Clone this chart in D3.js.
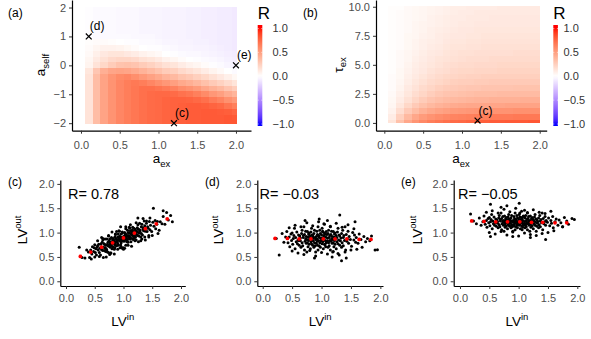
<!DOCTYPE html>
<html>
<head>
<meta charset="utf-8">
<script src="https://cdn.jsdelivr.net/npm/d3@7"></script>
<style>
body { margin: 0; background: #fff; }
svg { display: block; font-family: "Liberation Sans", Arial, Helvetica, sans-serif; }
.axis path, .axis line { stroke: #000; stroke-width: 1.2; }
.axis line { stroke: #333; stroke-width: 1; }
.axis text { fill: #4d4d4d; font-size: 11px; }
</style>
</head>
<body>
<script>
// ---- heatmap grids ----
var aexGrid = [0, 0.1, 0.2, 0.3, 0.4, 0.5, 0.6, 0.7, 0.8, 0.9, 1.0, 1.1, 1.2, 1.3, 1.4, 1.5, 1.6, 1.7, 1.8, 1.9, 2.0];
var aselfGrid = [-2, -1.8, -1.6, -1.4, -1.2, -1, -0.8, -0.6, -0.4, -0.2, 0, 0.2, 0.4, 0.6, 0.8, 1, 1.2, 1.4, 1.6, 1.8, 2];
var tauGrid = [0, 0.5, 1, 1.5, 2, 2.5, 3, 3.5, 4, 4.5, 5, 5.5, 6, 6.5, 7, 7.5, 8, 8.5, 9, 9.5, 10];

// panel (a): R, one column per a_ex value, a_self from -2 up to 2
var rAselfByCol = [
  [0, 0, 0, 0, 0, 0, 0, 0, 0, 0, 0, 0, 0, 0, 0, 0, 0, 0, 0, 0, 0],
  [.15, .15, .15, .15, .15, .15, .15, .15, .15, .13, .06, .05, .03, .02, .01, -.01, -.01, -.01, -.01, -.01, -.01],
  [.35, .35, .35, .35, .35, .35, .35, .35, .35, .30, .15, .11, .08, .05, .02, -.02, -.02, -.02, -.02, -.02, -.02],
  [.48, .48, .48, .48, .48, .48, .48, .48, .48, .42, .21, .16, .12, .07, .02, -.02, -.02, -.02, -.02, -.02, -.02],
  [.56, .56, .56, .56, .56, .56, .56, .56, .55, .47, .27, .20, .14, .07, .01, -.02, -.02, -.02, -.02, -.02, -.02],
  [.62, .62, .62, .62, .62, .62, .62, .62, .60, .48, .32, .22, .14, .06, .00, -.02, -.03, -.03, -.03, -.03, -.03],
  [.66, .66, .66, .66, .66, .66, .66, .66, .62, .47, .33, .22, .12, .04, -.01, -.02, -.03, -.03, -.03, -.03, -.03],
  [.69, .69, .69, .69, .69, .69, .69, .68, .58, .44, .31, .20, .10, .02, -.01, -.03, -.03, -.03, -.03, -.03, -.03],
  [.72, .72, .72, .72, .72, .72, .72, .66, .53, .40, .27, .16, .07, .00, -.02, -.03, -.04, -.04, -.04, -.04, -.04],
  [.74, .74, .74, .74, .74, .74, .72, .62, .49, .36, .24, .14, .05, -.01, -.02, -.03, -.04, -.04, -.04, -.04, -.04],
  [.75, .75, .75, .75, .75, .75, .70, .58, .45, .32, .20, .11, .03, -.01, -.03, -.04, -.04, -.04, -.04, -.04, -.04],
  [.77, .77, .77, .77, .77, .75, .67, .54, .40, .27, .16, .07, .00, -.02, -.04, -.05, -.05, -.05, -.05, -.05, -.05],
  [.78, .78, .78, .78, .78, .74, .64, .50, .37, .25, .14, .05, -.01, -.03, -.04, -.05, -.05, -.05, -.05, -.05, -.05],
  [.79, .79, .79, .79, .78, .71, .59, .45, .32, .20, .10, .02, -.02, -.04, -.05, -.05, -.05, -.05, -.05, -.05, -.05],
  [.80, .80, .80, .80, .77, .69, .56, .42, .29, .17, .07, .00, -.03, -.04, -.05, -.06, -.06, -.06, -.06, -.06, -.06],
  [.80, .80, .80, .80, .75, .65, .52, .38, .25, .14, .05, -.01, -.03, -.05, -.06, -.06, -.06, -.06, -.06, -.06, -.06],
  [.81, .81, .81, .79, .72, .60, .46, .33, .21, .10, .02, -.02, -.04, -.05, -.06, -.07, -.07, -.07, -.07, -.07, -.07],
  [.81, .81, .81, .77, .67, .54, .41, .28, .16, .06, -.01, -.03, -.05, -.06, -.07, -.07, -.07, -.07, -.07, -.07, -.07],
  [.81, .81, .80, .75, .63, .50, .37, .24, .12, .03, -.02, -.04, -.06, -.07, -.08, -.08, -.08, -.08, -.08, -.08, -.08],
  [.82, .82, .79, .70, .57, .44, .31, .19, .08, .00, -.04, -.06, -.07, -.08, -.08, -.08, -.08, -.08, -.08, -.08, -.08],
  [.82, .81, .76, .65, .52, .39, .26, .14, .04, -.02, -.05, -.07, -.08, -.09, -.09, -.09, -.09, -.09, -.09, -.09, -.09]
];

// panel (b): R, one row per tau_ex value (0 up to 10), a_ex from 0 to 2
var rTauByRow = [
  [0, .14, .33, .46, .55, .61, .66, .69, .72, .74, .75, .77, .78, .79, .80, .80, .81, .81, .81, .82, .82],
  [0, .10, .25, .37, .46, .52, .56, .59, .61, .63, .64, .65, .66, .66, .67, .67, .67, .68, .68, .68, .68],
  [0, .07, .18, .28, .35, .41, .45, .48, .50, .52, .53, .54, .55, .55, .56, .56, .56, .57, .57, .57, .57],
  [0, .05, .13, .21, .28, .33, .37, .40, .42, .44, .45, .46, .46, .47, .47, .47, .48, .48, .48, .48, .48],
  [0, .04, .10, .16, .22, .27, .31, .34, .36, .37, .38, .39, .40, .40, .41, .41, .41, .41, .42, .42, .42],
  [0, .03, .08, .13, .18, .22, .26, .29, .31, .32, .33, .34, .35, .35, .35, .36, .36, .36, .36, .36, .36],
  [0, .02, .06, .11, .15, .19, .22, .25, .27, .28, .29, .30, .30, .31, .31, .31, .31, .32, .32, .32, .32],
  [0, .02, .05, .09, .13, .16, .19, .21, .23, .25, .26, .26, .27, .27, .28, .28, .28, .28, .28, .28, .28],
  [0, .02, .04, .08, .11, .14, .17, .19, .21, .22, .23, .24, .24, .25, .25, .25, .25, .25, .25, .25, .25],
  [0, .01, .04, .07, .10, .12, .15, .17, .18, .20, .21, .21, .22, .22, .22, .23, .23, .23, .23, .23, .23],
  [0, .01, .03, .06, .09, .11, .13, .15, .17, .18, .19, .19, .20, .20, .20, .21, .21, .21, .21, .21, .21],
  [0, .01, .03, .05, .08, .10, .12, .14, .15, .16, .17, .18, .18, .18, .19, .19, .19, .19, .19, .19, .19],
  [0, .01, .03, .05, .07, .09, .11, .12, .14, .15, .16, .16, .17, .17, .17, .17, .17, .18, .18, .18, .18],
  [0, .01, .02, .04, .06, .08, .10, .11, .13, .14, .14, .15, .15, .16, .16, .16, .16, .16, .16, .16, .16],
  [0, .01, .02, .04, .06, .08, .09, .10, .12, .13, .13, .14, .14, .15, .15, .15, .15, .15, .15, .15, .15],
  [0, .01, .02, .04, .05, .07, .08, .10, .11, .12, .12, .13, .13, .14, .14, .14, .14, .14, .14, .14, .14],
  [0, .01, .02, .03, .05, .06, .08, .09, .10, .11, .12, .12, .13, .13, .13, .13, .13, .13, .13, .13, .13],
  [0, .01, .02, .03, .05, .06, .07, .08, .09, .10, .11, .11, .12, .12, .12, .12, .12, .12, .12, .12, .12],
  [0, .01, .02, .03, .04, .05, .07, .08, .09, .10, .10, .11, .11, .11, .12, .12, .12, .12, .12, .12, .12],
  [0, .01, .02, .03, .04, .05, .06, .07, .08, .09, .10, .10, .11, .11, .11, .11, .11, .11, .11, .11, .11],
  [0, .01, .01, .03, .04, .05, .06, .07, .08, .09, .09, .10, .10, .10, .10, .11, .11, .11, .11, .11, .11]
];

// marked parameter sets
var markAex = [0.1, 2.0, 1.2];
var markAself = [1, 0, -2];
var markLabelA = ["(d)", "(e)", "(c)"];
var markTauAex = [1.2];
var markTau = [0.2];
var markLabelB = ["(c)"];

// tick labels
var aexTicks = [0, 0.5, 1, 1.5, 2];
var aselfTicks = [-2, -1, 0, 1, 2];
var tauTicks = [0, 2.5, 5, 7.5, 10];
var lvTicks = [0, 0.5, 1, 1.5, 2];
var rTicks = [-1, -0.5, 0, 0.5, 1];

// ---- scatter data: LV in (shared sample order) and LV out per panel ----
var lvIn = [0.23,0.28, 0.33,0.36,0.39, 0.41,0.43,0.45,0.46,0.48,0.49,
  0.50,0.51,0.52,0.53,0.55,0.56,0.57,0.58,0.59,0.54,
  0.60,0.61,0.62,0.63,0.64,0.64,0.65,0.66,0.67,0.67,0.68,0.69,0.69,0.61,
  0.70,0.71,0.71,0.72,0.73,0.73,0.74,0.74,0.75,0.75,0.76,0.76,0.77,0.77,0.78,0.78,0.79,0.79,
  0.80,0.80,0.81,0.81,0.82,0.82,0.83,0.83,0.84,0.84,0.85,0.85,0.86,0.86,0.87,0.87,0.88,0.88,0.89,0.89,0.85,
  0.90,0.90,0.91,0.91,0.92,0.92,0.93,0.93,0.94,0.94,0.95,0.95,0.96,0.96,0.97,0.97,0.98,0.98,0.99,0.99,0.95,0.93,
  1.00,1.00,1.01,1.01,1.02,1.02,1.03,1.03,1.04,1.04,1.05,1.05,1.06,1.06,1.07,1.07,1.08,1.08,1.09,1.09,1.02,1.06,
  1.10,1.10,1.11,1.11,1.12,1.12,1.13,1.13,1.14,1.14,1.15,1.15,1.16,1.16,1.17,1.17,1.18,1.18,1.19,1.19,
  1.20,1.20,1.21,1.21,1.22,1.22,1.23,1.23,1.24,1.25,1.25,1.26,1.26,1.27,1.28,1.28,1.29,
  1.30,1.31,1.31,1.32,1.33,1.34,1.34,1.35,1.36,1.37,1.37,1.38,1.39,
  1.40,1.41,1.42,1.43,1.44,1.45,1.46,1.47,1.49,
  1.51,1.53,1.55,1.56,1.58,1.59, 1.62,1.64,1.67,1.69, 1.72,1.75,1.78, 1.82,1.85];

var lvOutC = [0.70,0.49, 0.48,0.64,0.60, 0.49,0.64,0.56,0.71,0.61,0.69,
  0.75,0.59,0.67,0.54,0.73,0.64,0.76,0.59,0.68,0.70,
  0.54,0.71,0.65,0.80,0.63,0.85,0.70,0.77,0.63,0.76,0.69,0.74,0.61,0.77,
  0.67,0.87,0.64,0.76,0.80,0.73,0.93,0.59,0.83,0.72,0.76,0.87,0.70,0.80,0.76,0.58,0.90,0.73,
  0.81,0.67,0.86,0.77,0.88,0.71,0.80,0.85,0.66,0.82,0.77,0.91,0.74,0.96,0.81,0.88,0.73,0.86,0.80,0.84,0.69,
  0.91,0.77,0.97,0.74,0.86,0.89,0.83,1.03,0.69,0.92,0.82,0.86,0.97,0.79,0.90,0.86,0.68,0.99,0.83,0.91,0.75,0.92,
  0.69,0.87,0.92,0.82,1.00,0.89,0.86,0.97,0.74,1.08,0.89,0.96,0.93,0.81,1.05,0.86,1.00,0.80,0.94,0.90,0.93,0.82,
  0.99,0.92,1.09,0.87,1.04,0.90,0.97,0.81,1.00,0.95,0.88,1.05,0.94,1.03,0.86,1.00,0.92,1.09,1.02,0.89,
  0.96,1.07,0.91,0.99,1.04,0.85,1.02,0.96,1.10,0.94,1.16,1.00,1.07,0.93,1.06,0.99,1.04,
  0.91,1.12,0.98,1.17,0.95,1.07,1.10,1.04,1.24,0.91,1.14,1.03,1.08,
  1.19,1.02,1.12,1.09,0.91,1.23,1.06,1.15,1.02,
  1.21,1.13,1.25,1.08,1.17,1.23, 1.05,1.22,1.18,1.33, 1.17,1.41,1.26, 1.35,1.22];

var lvOutD = [0.88,0.54, 0.98,0.80,0.91, 1.02,0.79,0.91,0.71,0.97,0.84,
  0.99,0.76,0.88,0.94,0.67,0.90,0.81,1.01,0.77,1.09,
  0.85,0.95,0.74,0.93,0.83,0.89,0.70,0.98,0.79,1.05,0.73,0.90,0.94,0.84,
  1.12,0.64,0.96,0.82,0.87,1.03,0.78,0.92,0.86,0.60,1.02,0.79,0.91,0.71,0.97,0.84,0.99,0.76,
  0.88,0.94,0.67,0.90,0.81,1.01,0.77,1.09,0.85,0.95,0.74,0.93,0.83,0.89,0.70,0.98,0.79,1.05,0.73,0.90,0.94,
  0.60,0.86,0.92,0.78,1.03,0.87,0.82,0.96,0.64,1.12,0.84,0.94,0.90,0.73,1.05,0.79,0.98,0.70,0.89,0.83,0.93,0.74,
  0.95,0.85,1.09,0.77,1.01,0.81,0.90,0.67,0.94,0.88,0.76,0.99,0.84,0.97,0.71,0.91,0.79,1.02,0.96,0.82,1.03,0.75,
  0.83,0.89,0.70,0.98,0.79,1.05,0.73,0.90,0.94,0.84,1.12,0.64,0.96,0.82,0.87,1.03,0.78,0.92,0.86,0.60,
  1.02,0.79,0.91,0.71,0.97,0.84,0.99,0.76,0.88,0.94,0.67,0.90,0.81,1.01,0.77,1.09,0.85,
  0.95,0.74,0.93,0.83,0.89,0.70,0.98,0.79,1.05,0.73,0.90,0.94,0.84,
  1.12,0.64,0.96,0.82,0.87,1.03,0.78,0.92,0.86,
  0.72,1.00,0.85,0.95,0.80,0.90, 0.78,0.97,0.86,0.70, 0.92,0.81,0.88, 0.83,0.93];

var lvOutE = [1.24,1.18, 1.30,1.15,1.22, 1.34,1.17,1.25,1.11,1.29,1.20,
  1.31,1.14,1.22,1.27,1.08,1.24,1.18,1.32,1.15,1.37,
  1.21,1.28,1.13,1.26,1.19,1.23,1.10,1.30,1.16,1.35,1.12,1.24,1.27,1.20,
  1.40,1.06,1.29,1.18,1.22,1.33,1.15,1.25,1.21,1.03,1.34,1.17,1.25,1.11,1.29,1.20,1.31,1.14,
  1.22,1.27,1.08,1.24,1.18,1.32,1.15,1.37,1.21,1.28,1.13,1.26,1.19,1.23,1.10,1.30,1.16,1.35,1.12,1.24,1.27,
  1.03,1.21,1.25,1.15,1.33,1.22,1.18,1.29,1.06,1.40,1.20,1.27,1.24,1.12,1.35,1.16,1.30,1.10,1.23,1.19,1.26,1.13,
  1.28,1.21,1.37,1.15,1.32,1.18,1.24,1.08,1.27,1.22,1.14,1.31,1.20,1.29,1.11,1.25,1.17,1.34,1.33,1.15,1.40,1.06,
  1.19,1.23,1.10,1.30,1.16,1.35,1.12,1.24,1.27,1.20,1.40,1.06,1.29,1.18,1.22,1.33,1.15,1.25,1.21,1.03,
  1.34,1.17,1.25,1.11,1.29,1.20,1.31,1.14,1.22,1.27,1.08,1.24,1.18,1.32,1.15,1.37,1.21,
  1.28,1.13,1.26,1.19,1.23,1.10,1.30,1.16,1.35,1.12,1.24,1.27,1.20,
  1.40,1.06,1.29,1.18,1.22,1.33,1.15,1.25,1.21,
  1.30,1.14,1.25,1.19,1.33,1.10, 1.22,1.28,1.15,1.26, 1.20,1.12,1.31, 1.24,1.17];

// points on the fringe of each cloud (not in the shared sample)
var extraInC = [1.52, 1.69, 0.44, 0.50, 0.95, 1.25, 0.70, 1.60,
  0.55,0.62,0.68,0.74,0.80,0.86,0.92,0.98,1.04,1.10,1.16,1.22,1.28,1.34,1.40,1.46,
  0.58,0.65,0.72,0.78,0.84,0.90,0.96,1.02,1.08,1.14,1.20,1.26,1.32,1.38,1.44,1.50,
  0.88,1.00,1.12,0.76,1.30,0.64];
var extraOutC = [1.50, 1.45, 0.46, 0.50, 1.12, 1.30, 0.50, 0.98,
  0.83,0.90,0.87,0.94,1.01,0.97,1.04,1.01,1.12,1.11,1.11,1.20,1.19,1.29,1.24,1.30,
  0.51,0.49,0.60,0.58,0.56,0.66,0.71,0.68,0.74,0.72,0.83,0.81,0.87,0.85,0.94,0.94,
  1.02,0.66,1.16,0.55,0.83,0.88];
var extraInD = [1.31, 1.34, 1.57, 1.91, 1.95, 1.42, 1.10,
  0.45,0.55,0.65,0.75,0.85,0.95,1.05,1.15,1.25,1.35,1.45,1.55,
  0.50,0.60,0.70,0.80,0.90,1.00,1.10,1.20,1.30,1.40,1.50,1.60,
  0.72,0.88,1.04,1.18,0.96,1.28];
var extraOutD = [1.36, 0.42, 1.22, 0.64, 0.65, 0.48, 1.25,
  1.10,1.15,1.12,1.20,1.14,1.22,1.17,1.13,1.19,1.11,1.16,1.08,
  0.62,0.58,0.55,0.63,0.52,0.59,0.56,0.61,0.54,0.60,0.64,0.66,
  1.25,0.48,1.18,0.50,1.28,0.57];
var extraInE = [1.01, 0.18, 0.52, 1.91, 1.46, 0.52, 1.95, 1.75,
  0.45,0.55,0.65,0.75,0.85,0.95,1.05,1.15,1.25,1.35,1.45,1.55,
  0.50,0.60,0.70,0.80,0.90,1.00,1.10,1.20,1.30,1.40,1.50,1.60,
  0.70,0.90,1.10,1.30,0.80,1.20];
var extraOutE = [1.60, 1.38, 1.58, 1.29, 0.86, 0.92, 1.27, 1.12,
  1.42,1.45,1.40,1.48,1.43,1.50,1.44,1.41,1.47,1.42,1.39,1.44,
  1.00,0.97,1.02,0.95,1.01,0.93,0.99,0.96,1.03,0.98,1.00,1.04,
  1.52,0.92,1.46,0.94,1.55,0.90];

// binned means (red)
var binInC = [0.25, 0.43, 0.62, 0.81, 1.00, 1.19, 1.38, 1.57, 1.76];
var binOutC = [0.51, 0.60, 0.70, 0.79, 0.89, 0.99, 1.08, 1.18, 1.28];
var binInD = [0.21, 0.42, 0.62, 0.82, 1.03, 1.23, 1.43, 1.64, 1.84];
var binOutD = [0.88, 0.88, 0.87, 0.87, 0.87, 0.87, 0.87, 0.86, 0.86];
var binInE = [0.20, 0.41, 0.61, 0.81, 1.02, 1.22, 1.41, 1.62, 1.82];
var binOutE = [1.24, 1.23, 1.22, 1.22, 1.22, 1.21, 1.21, 1.20, 1.20];

var corrR = [0.78, -0.03, -0.05];
var panelTags = ["(a)", "(b)", "(c)", "(d)", "(e)"];

// ---------------------------------------------------------------
var W = 591, H = 339;
var svg = d3.select("body").append("svg").attr("width", W).attr("height", H);

var rColor = d3.scaleLinear().domain([-1, 0, 1])
    .range(["#0000ff", "#ffffff", "#ff0000"])
    .interpolate(d3.interpolateLab).clamp(true);

var f1 = d3.format(".1f");
var timesType = d3.symbolTimes || d3.symbolX || d3.symbolCross;

function pairs(xs, ys) {
    return xs.map(function(x, i) { return {x: x, y: ys[i]}; })
             .filter(function(d) { return d.y !== undefined; });
}

function drawAxes(x, y, xFmt, yFmt, xTicks, yTicks, xPad) {
    svg.append("g").attr("class", "axis")
        .attr("transform", "translate(0," + y.range()[0] + ")")
        .call(d3.axisBottom(x).tickValues(xTicks).tickFormat(xFmt)
              .tickSize(3).tickSizeOuter(0).tickPadding(xPad));
    svg.append("g").attr("class", "axis")
        .attr("transform", "translate(" + x.range()[0] + ",0)")
        .call(d3.axisLeft(y).tickValues(yTicks).tickFormat(yFmt)
              .tickSize(3).tickSizeOuter(0).tickPadding(3));
}

// title with sub/superscript
function scriptTitle(x, y, main, script, shift, rotate) {
    var t = svg.append("text")
        .attr("transform", "translate(" + x + "," + y + ")" + (rotate ? " rotate(-90)" : ""))
        .attr("text-anchor", "middle")
        .style("font-size", "13.5px")
        .style("fill", "#000");
    t.append("tspan").text(main);
    t.append("tspan").attr("dy", shift).style("font-size", "9.5px").text(script);
}

function drawHeat(x, y, cells, hw, hh, clampX, clampY) {
    svg.append("g").selectAll("rect")
        .data(cells)
      .enter().append("rect")
        .attr("x", function(d) { return x(Math.max(d.x - hw, clampX[0])); })
        .attr("width", function(d) { return x(Math.min(d.x + hw, clampX[1])) - x(Math.max(d.x - hw, clampX[0])); })
        .attr("y", function(d) { return y(Math.min(d.y + hh, clampY[1])); })
        .attr("height", function(d) { return y(Math.max(d.y - hh, clampY[0])) - y(Math.min(d.y + hh, clampY[1])); })
        .attr("shape-rendering", "crispEdges")
        .style("fill", function(d) { return rColor(d.r); });
}

function drawMarks(x, y, xs, ys, labels) {
    var g = svg.append("g");
    xs.forEach(function(v, i) {
        g.append("path")
            .attr("d", d3.symbol().type(timesType).size(24)())
            .attr("transform", "translate(" + x(v) + "," + y(ys[i]) + ")" + (timesType === d3.symbolCross ? " rotate(45)" : ""))
            .style("fill", timesType === d3.symbolCross ? "#000" : "none")
            .style("stroke", "#000").style("stroke-width", 1.2);
        g.append("text")
            .attr("x", x(v) + 1).attr("y", y(ys[i]) - 6)
            .style("font-size", "12px").style("fill", "#000")
            .text(labels[i]);
    });
}

// shared colour bar gradient
var legendY = d3.scaleLinear().domain([-1, 1]).range([124, 28.5]);
var barTop = 25, barBot = 126;
var grad = svg.append("defs").append("linearGradient")
    .attr("id", "rgrad").attr("x1", 0).attr("y1", 0).attr("x2", 0).attr("y2", 1);
d3.range(0, 1.0001, 0.025).forEach(function(o) {
    grad.append("stop").attr("offset", o)
        .attr("stop-color", rColor(legendY.invert(barTop + o * (barBot - barTop))));
});

function drawColorbar(bx, lx) {
    svg.append("text").attr("x", bx).attr("y", 18.5)
        .style("font-size", "17px").style("fill", "#000").text("R");
    svg.append("rect").attr("x", bx).attr("y", barTop)
        .attr("width", 4.6).attr("height", barBot - barTop)
        .style("fill", "url(#rgrad)");
    rTicks.forEach(function(v) {
        svg.append("line").attr("x1", bx).attr("x2", bx + 1)
            .attr("y1", legendY(v)).attr("y2", legendY(v))
            .style("stroke", "#fff").style("stroke-width", 0.6);
        svg.append("line").attr("x1", bx + 3.6).attr("x2", bx + 4.6)
            .attr("y1", legendY(v)).attr("y2", legendY(v))
            .style("stroke", "#fff").style("stroke-width", 0.6);
        svg.append("text").attr("x", lx).attr("y", legendY(v)).attr("dy", "0.36em")
            .style("font-size", "11px").style("fill", "#333").text(f1(v));
    });
}

// ---------------- panel (a) ----------------
var xA = d3.scaleLinear().domain([-0.116, 2.194]).range([72, 251]);
var yA = d3.scaleLinear().domain([-2.26, 2.26]).range([130.7, 0]);
var cellsA = [];
aexGrid.forEach(function(a, i) {
    aselfGrid.forEach(function(s, j) {
        cellsA.push({x: a, y: s, r: rAselfByCol[i][j]});
    });
});
drawHeat(xA, yA, cellsA, 0.05, 0.1, [-0.016, 2.016], [-2.03, 2.03]);
drawAxes(xA, yA, f1, d3.format("d"), aexTicks, aselfTicks, 8);
drawMarks(xA, yA, markAex, markAself, markLabelA);
scriptTitle(45, 65, "a", "self", 3.5, true);
scriptTitle(161.5, 163, "a", "ex", 3.5, false);
drawColorbar(257.7, 272.5);

// ---------------- panel (b) ----------------
var xB = d3.scaleLinear().domain([-0.107, 2.09]).range([376, 546.7]);
var yB = d3.scaleLinear().domain([-0.67, 10.58]).range([130.7, 0]);
var cellsB = [];
tauGrid.forEach(function(t, j) {
    aexGrid.forEach(function(a, i) {
        cellsB.push({x: a, y: t, r: rTauByRow[j][i]});
    });
});
drawHeat(xB, yB, cellsB, 0.05, 0.25, [-0.01, 2.005], [0, 10.05]);
drawAxes(xB, yB, f1, f1, aexTicks, tauTicks, 8);
drawMarks(xB, yB, markTauAex, markTau, markLabelB);
scriptTitle(342.5, 65, "\u03c4", "ex", 3.5, true);
scriptTitle(461, 163, "a", "ex", 3.5, false);
drawColorbar(553.3, 563.5);

// ---------------- scatter panels (c)-(e) ----------------
var scatters = [
    {xr: [60.3, 185.3], xd: [-0.099, 2.075], pts: pairs(lvIn, lvOutC).concat(pairs(extraInC, extraOutC)),
     bins: pairs(binInC, binOutC), ylab: 26.5, rx: 68},
    {xr: [257.3, 383], xd: [-0.092, 2.045], pts: pairs(lvIn, lvOutD).concat(pairs(extraInD, extraOutD)),
     bins: pairs(binInD, binOutD), ylab: 223, rx: 259.5},
    {xr: [453.7, 580], xd: [-0.107, 2.046], pts: pairs(lvIn, lvOutE).concat(pairs(extraInE, extraOutE)),
     bins: pairs(binInE, binOutE), ylab: 421.5, rx: 458}
];
var tagX = [8, 205, 401];

scatters.forEach(function(p, k) {
    var x = d3.scaleLinear().domain(p.xd).range(p.xr);
    var y = d3.scaleLinear().domain([-0.097, 2.08]).range([286, 180]);

    svg.append("g").selectAll("circle")
        .data(p.pts)
      .enter().append("circle")
        .attr("cx", function(d) { return x(d.x); })
        .attr("cy", function(d) { return y(d.y); })
        .attr("r", 1.5)
        .style("fill", "#000");

    svg.append("g").selectAll("circle")
        .data(p.bins)
      .enter().append("circle")
        .attr("cx", function(d) { return x(d.x); })
        .attr("cy", function(d) { return y(d.y); })
        .attr("r", 1.9)
        .style("fill", "#ff0000");

    drawAxes(x, y, f1, f1, lvTicks, lvTicks, 5);

    scriptTitle(p.ylab, 230, "LV", "out", -5.5, true);
    scriptTitle((p.xr[0] + p.xr[1]) / 2, 325.5, "LV", "in", -5.5, false);

    svg.append("text").attr("x", p.rx).attr("y", 199)
        .style("font-size", "14.5px").style("fill", "#000")
        .text("R= " + d3.format(".2f")(corrR[k]));

    svg.append("text").attr("x", tagX[k]).attr("y", 186)
        .style("font-size", "12px").style("fill", "#000")
        .text(panelTags[k + 2]);
});

svg.append("text").attr("x", 8).attr("y", 17).style("font-size", "12px").text(panelTags[0]);
svg.append("text").attr("x", 303).attr("y", 17).style("font-size", "12px").text(panelTags[1]);
</script>
</body>
</html>
